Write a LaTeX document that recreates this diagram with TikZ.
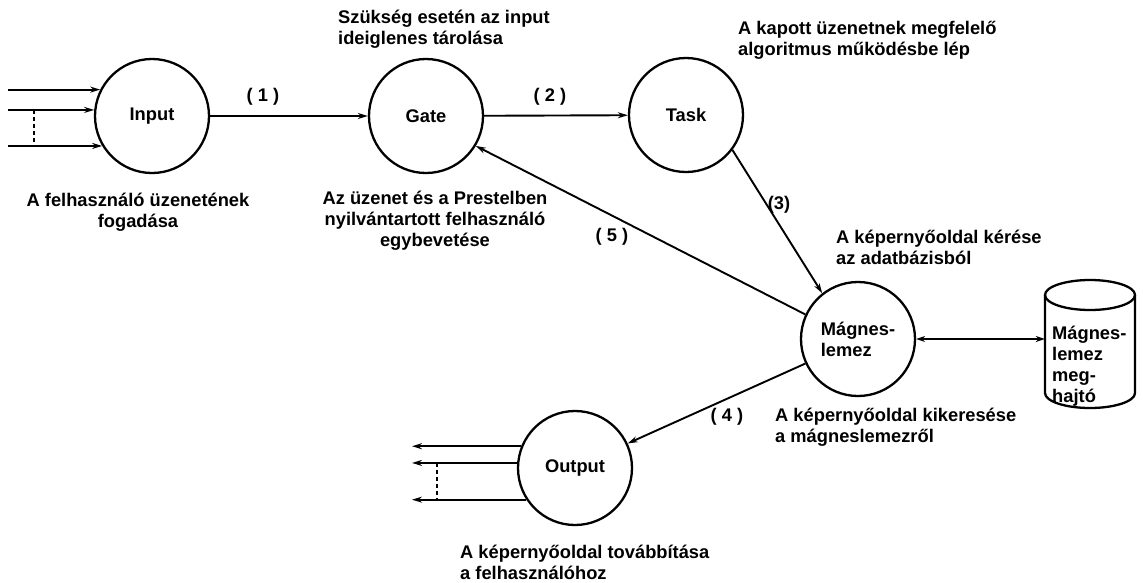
\documentclass[tikz,border=0pt]{standalone}
\usepackage{fontspec}
\setmainfont{Liberation Sans}
\usetikzlibrary{arrows.meta}
\newcommand\dfdfont{\fontsize{18.3}{21}\selectfont\bfseries}
\begin{document}
\begin{tikzpicture}[x=1pt,y=-1pt,
  proc/.style={circle,draw,line width=2.3pt,minimum size=114pt,inner sep=0pt,font=\dfdfont,align=center},
  flow/.style={line width=1.9pt,-{Stealth[length=10pt,width=6pt]}},
  bflow/.style={line width=1.9pt,{Stealth[length=9pt,width=6pt]}-{Stealth[length=9pt,width=6pt]}},
  dashline/.style={line width=1.5pt,dash pattern=on 4pt off 3pt},
  note/.style={font=\dfdfont,inner sep=0pt},
  lab/.style={font=\dfdfont,inner sep=0pt},
  cyl/.style={line width=2.3pt}]
\useasboundingbox (0,0) rectangle (1143,582);

% processes
\node[proc] (input) at (152,116) {Input};
\node[proc] (gate) at (426,116) {Gate};
\node[proc] (task) at (686,115) {Task};
\node[proc,align=left] (mag) at (858,339) {Mágnes-\\lemez};
\node[proc] (output) at (575,468) {Output};

% drive (cylinder)
\node[minimum width=90pt,minimum height=128pt,inner sep=0pt] (drive) at (1090,344) {};
\draw[cyl] (1090,295) ellipse[x radius=45,y radius=15];
\draw[cyl] (1045,295) -- (1045,393) arc[start angle=180,end angle=0,x radius=45,y radius=15] -- (1135,295);
\node[note,anchor=west,align=left] (drivetxt) at (1052,366) {Mágnes-\\lemez\\meg-\\hajtó};

% input lines
\coordinate (i0) at (8,0);
\coordinate (d0) at (34,0);
\draw[flow] (input.153.5 -| i0) -- (input.153.5);
\draw[flow] (input.174 -| i0) -- (input.174);
\draw[flow] (input.211 -| i0) -- (input.211);
\draw[dashline] (input.174 -| d0) -- (input.211 -| d0);

% output lines
\coordinate (o0) at (412,0);
\coordinate (e0) at (437,0);
\draw[flow] (output.158) -- (output.158 -| o0);
\draw[flow] (output.175) -- (output.175 -| o0);
\draw[flow] (output.213.5) -- (output.213.5 -| o0);
\draw[dashline] (output.175 -| e0) -- (output.213.5 -| e0);

% flows
\draw[flow] (input) -- (gate);
\draw[flow] (gate) -- (task);
\draw[flow] (task.-37) -- (mag.128.5);
\draw[flow] (mag.155) -- (gate.-31);
\draw[flow] (mag.205) -- (output.25);
\draw[bflow] (mag.east) -- (mag.east -| drive.west);

% flow labels
\node[lab] (l1) at (263,97) {( 1 )};
\node[lab] (l2) at (550,97) {( 2 )};
\node[lab] (l3) at (779,205) {(3)};
\node[lab] (l4) at (727,417) {( 4 )};
\node[lab] (l5) at (612,237) {( 5 )};

% notes
\node[note,align=center] (n1) at (138,212.5) {A felhasználó üzenetének\\fogadása};
\node[note,anchor=west,align=left] (n2) at (338,29) {Szükség esetén az input\\ideiglenes tárolása};
\node[note,anchor=west,align=left] (n3) at (738,40) {A kapott üzenetnek megfelelő\\algoritmus működésbe lép};
\node[note,align=center] (n4) at (435,221) {Az üzenet és a Prestelben\\nyilvántartott felhasználó\\egybevetése};
\node[note,anchor=west,align=left] (n5) at (836,247.5) {A képernyőoldal kérése\\az adatbázisból};
\node[note,anchor=west,align=left] (n6) at (775,427.5) {A képernyőoldal kikeresése\\a mágneslemezről};
\node[note,anchor=west,align=left] (n7) at (460,562.5) {A képernyőoldal továbbítása\\a felhasználóhoz};
\end{tikzpicture}
\end{document}
